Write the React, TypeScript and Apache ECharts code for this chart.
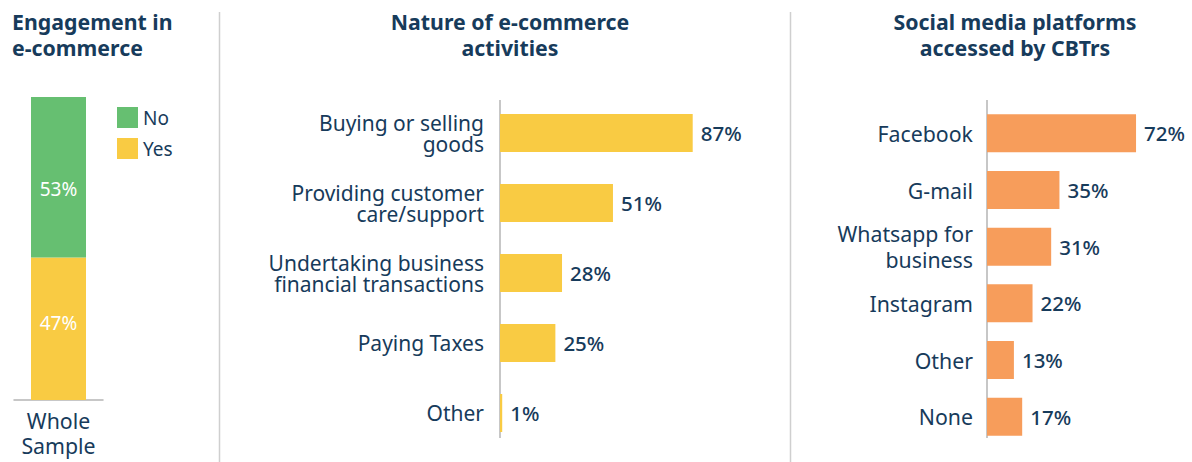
import React, { useEffect, useRef } from "react";
import * as echarts from "echarts";

const NAVY = "#173B5B";
const GREEN = "#66BF71";
const YELLOW = "#F9CB43";
const ORANGE = "#F79D5B";
const FONT = "Noto Sans";

// Engagement in e-commerce
const engageCategories = ["Whole\nSample"];
const engageYes = [47];
const engageNo = [53];

// Nature of e-commerce activities
const natureCategories = [
  "Buying or selling\ngoods",
  "Providing customer\ncare/support",
  "Undertaking business\nfinancial transactions",
  "Paying Taxes",
  "Other",
];
const natureValues = [87, 51, 28, 25, 1];

// Social media platforms accessed by CBTrs
const socialCategories = [
  "Facebook",
  "G-mail",
  "Whatsapp for\nbusiness",
  "Instagram",
  "Other",
  "None",
];
const socialValues = [72, 35, 31, 22, 13, 17];

export default function App() {
  const ref = useRef<HTMLDivElement>(null);
  useEffect(() => {
    if (!ref.current) return;
    const chart = echarts.init(ref.current, null, { renderer: "svg" });
    const valueLabel = {
      show: true,
      position: "right",
      distance: 8,
      formatter: "{c}%",
      fontSize: 20.5,
      fontFamily: FONT,
      fontWeight: 500,
      color: NAVY,
    };
    const titleStyle = {
      fontSize: 21.3,
      fontWeight: "bold",
      fontFamily: FONT,
      color: NAVY,
      lineHeight: 26,
    };
    chart.setOption({
      animation: false,
      textStyle: { fontFamily: FONT },
      title: [
        { text: "Engagement in\ne-commerce", left: 7, top: 3, textStyle: titleStyle },
        { text: "Nature of e-commerce\nactivities", left: 505, top: 3, textAlign: "center", textStyle: titleStyle },
        { text: "Social media platforms\naccessed by CBTrs", left: 1010, top: 3, textAlign: "center", textStyle: titleStyle },
      ],
      legend: {
        data: ["No", "Yes"],
        orient: "vertical",
        left: 117,
        top: 107,
        padding: 0,
        icon: "rect",
        itemWidth: 21,
        itemHeight: 21,
        itemGap: 10,
        textStyle: { fontSize: 19, color: NAVY, fontFamily: FONT, lineHeight: 21 },
      },
      grid: [
        { left: 14, width: 89, top: 97, height: 303 },
        { left: 500, width: 221.5, top: 98, height: 350 },
        { left: 987, width: 165.6, top: 105, height: 340 },
      ],
      xAxis: [
        {
          gridIndex: 0,
          type: "category",
          data: engageCategories,
          axisLine: { lineStyle: { color: "#b5b5b5", width: 1.5 } },
          axisTick: { show: false },
          axisLabel: { fontSize: 21.3, lineHeight: 25, color: NAVY, margin: 8, fontFamily: FONT },
        },
        { gridIndex: 1, type: "value", min: 0, max: 100, show: false },
        { gridIndex: 2, type: "value", min: 0, max: 80, show: false },
      ],
      yAxis: [
        { gridIndex: 0, type: "value", min: 0, max: 100, show: false },
        {
          gridIndex: 1,
          type: "category",
          inverse: true,
          data: natureCategories,
          axisLine: { show: false },
          axisTick: { show: false },
          axisLabel: { fontSize: 21, lineHeight: 21, color: NAVY, margin: 16, fontFamily: FONT },
        },
        {
          gridIndex: 2,
          type: "category",
          inverse: true,
          data: socialCategories,
          axisLine: { show: false },
          axisTick: { show: false },
          axisLabel: { fontSize: 21.3, lineHeight: 26, color: NAVY, margin: 14, fontFamily: FONT },
        },
      ],
      series: [
        {
          name: "Yes",
          type: "bar",
          xAxisIndex: 0,
          yAxisIndex: 0,
          stack: "engage",
          data: engageYes,
          barWidth: 55,
          itemStyle: { color: YELLOW },
          label: { show: true, position: "inside", offset: [0, -6], formatter: "{c}%", color: "#fff", fontSize: 19, fontFamily: FONT },
        },
        {
          name: "No",
          type: "bar",
          xAxisIndex: 0,
          yAxisIndex: 0,
          stack: "engage",
          data: engageNo,
          barWidth: 55,
          itemStyle: { color: GREEN },
          label: { show: true, position: "inside", offset: [0, 12], formatter: "{c}%", color: "#fff", fontSize: 19, fontFamily: FONT },
        },
        {
          name: "Nature",
          type: "bar",
          xAxisIndex: 1,
          yAxisIndex: 1,
          data: natureValues,
          barWidth: 38,
          itemStyle: { color: YELLOW },
          label: valueLabel,
        },
        {
          name: "Social",
          type: "bar",
          xAxisIndex: 2,
          yAxisIndex: 2,
          data: socialValues,
          barWidth: 38,
          itemStyle: { color: ORANGE },
          label: valueLabel,
        },
      ],
      graphic: [
        { type: "line", shape: { x1: 219.5, y1: 12, x2: 219.5, y2: 462 }, style: { stroke: "#cfcfcf", lineWidth: 1.5 } },
        { type: "line", shape: { x1: 790.5, y1: 12, x2: 790.5, y2: 462 }, style: { stroke: "#cfcfcf", lineWidth: 1.5 } },
        { type: "line", shape: { x1: 500, y1: 100, x2: 500, y2: 438 }, style: { stroke: "#b5b5b5", lineWidth: 1.5 } },
        { type: "line", shape: { x1: 987, y1: 100, x2: 987, y2: 438 }, style: { stroke: "#b5b5b5", lineWidth: 1.5 } },
      ],
    });
    return () => chart.dispose();
  }, []);
  return (
    <div
      ref={ref}
      style={{ position: "fixed", left: 0, top: 0, width: 1192, height: 462, background: "#fff" }}
    />
  );
}
